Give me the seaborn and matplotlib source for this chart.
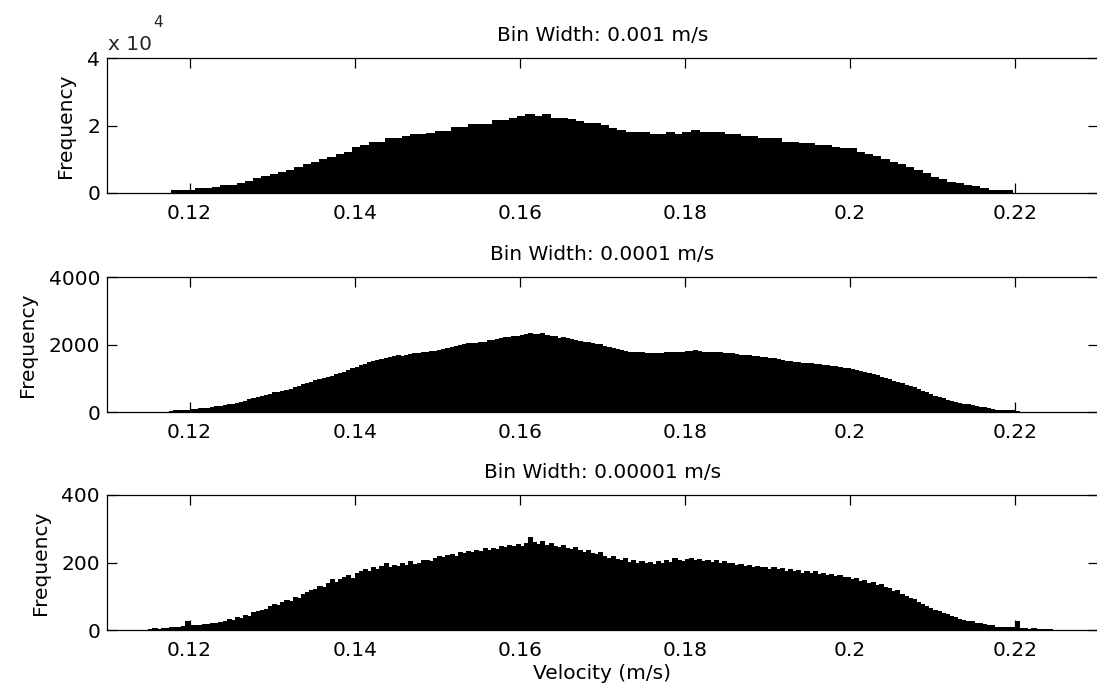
import numpy as np
import pandas as pd
import matplotlib
matplotlib.use("Agg")
import matplotlib.pyplot as plt
import seaborn as sns

# --- data ------------------------------------------------------------------
# panel 1: counts per 0.001 m/s bin, first bin starts at 0.1177 m/s
coarse_start = 0.1177
coarse_width = 0.001
coarse_counts = [
    690, 690, 690, 1290, 1290, 1690, 2380, 2380, 2880, 3570,
    4270, 4960, 5650, 6150, 6850, 7640, 8430, 9230, 10120, 10710,
    11410, 12100, 13590, 14190, 15180, 15180, 16270, 16270, 16760, 17360,
    17360, 17760, 18350, 18350, 19540,
    19540, 20530, 20530, 20530, 21720, 21720, 22320, 22910, 23310, 22910,
    23310, 22320, 22320, 21920, 21330, 20830, 20830, 20140, 19150, 18550,
    17960, 17960, 17960, 17560, 17560, 18050, 17560, 18050, 18550, 17960,
    17960, 17960, 17560, 17560,
    16960, 16960, 16370, 16370, 16370, 15180, 15180, 14680, 14680, 14190,
    14190, 13690, 13190, 13190, 12100, 11610, 10910, 9920, 9230, 8430,
    7740, 6750, 5750, 4760, 3970, 3270, 2780, 2380, 1880, 1390,
    690, 690, 690,
]

# panel 2: visible level of the 0.0001 m/s bins, read every 0.0005 m/s
mid_start = 0.1175
mid_step = 0.0005
mid_counts = [
    40, 55, 60, 65, 70, 85, 100, 115, 125, 140,
    155, 175, 200, 225, 240, 260, 285, 315, 345, 380,
    415, 450, 485, 520, 555, 590, 615, 640, 670, 705,
    745, 785, 825, 860, 900, 945, 990, 1030, 1060, 1090,
    1130, 1170, 1205, 1250, 1300, 1350, 1400, 1440, 1490, 1530,
    1560, 1590, 1620, 1640, 1660, 1690, 1680, 1710, 1730, 1760,
    1750, 1780, 1790, 1820, 1830, 1850, 1890, 1900, 1940, 1960,
    1980, 2010, 2040, 2040, 2060, 2080, 2090, 2130, 2150, 2180,
    2200, 2230, 2240, 2270, 2260, 2300, 2310, 2340, 2320, 2310,
    2340, 2300, 2270, 2250, 2210, 2220, 2190, 2170, 2150, 2110,
    2090, 2070, 2060, 2030, 2010, 1970, 1930, 1900, 1870, 1850,
    1820, 1800, 1790, 1800, 1780, 1770, 1760, 1750, 1760, 1770,
    1790, 1800, 1790, 1780, 1790, 1810, 1830, 1840, 1820, 1800,
    1790, 1800, 1790, 1780, 1770, 1760, 1750, 1730, 1710, 1690,
    1690, 1670, 1660, 1640, 1630, 1620, 1600, 1580, 1550, 1520,
    1510, 1490, 1490, 1470, 1460, 1450, 1440, 1420, 1410, 1390,
    1380, 1360, 1340, 1320, 1310, 1290, 1260, 1230, 1190, 1160,
    1130, 1100, 1060, 1020, 980, 940, 900, 860, 820, 780,
    740, 690, 640, 590, 540, 490, 450, 410, 370, 340,
    310, 285, 260, 240, 215, 190, 165, 145, 120, 95,
    75, 65, 60, 60, 60, 30,
]

# panel 3: visible level of the 0.00001 m/s bins, read every 0.0005 m/s
fine_start = 0.1150
fine_step = 0.0005
fine_counts = [
    4, 5, 3, 6, 5, 8, 9, 10, 12, 28,
    14, 16, 15, 18, 17, 22, 21, 25, 28, 32,
    31, 38, 36, 45, 42, 52, 55, 60, 63, 72,
    76, 74, 82, 90, 86, 98, 95, 108, 112, 118,
    122, 130, 126, 140, 152, 142, 150, 158, 162, 155,
    170, 175, 180, 176, 186, 182, 190, 198, 186, 194,
    190, 198, 192, 203, 197, 200, 206, 208, 204, 212,
    218, 215, 222, 226, 220, 230, 228, 235, 230, 238,
    234, 242, 236, 244, 240, 248, 245, 252, 248, 255,
    250, 258, 275, 262, 256, 264, 252, 258, 250, 246,
    252, 244, 240, 246, 236, 232, 238, 228, 224, 230,
    220, 214, 218, 210, 206, 212, 202, 206, 200, 204,
    198, 202, 196, 204, 200, 208, 202, 212, 206, 204,
    210, 214, 206, 210, 204, 208, 202, 206, 200, 204,
    198, 200, 194, 196, 190, 194, 188, 190, 186, 188,
    182, 186, 180, 184, 176, 180, 174, 178, 170, 174,
    168, 176, 166, 168, 162, 166, 160, 162, 156, 158,
    150, 154, 146, 148, 140, 142, 134, 136, 126, 124,
    116, 118, 106, 102, 94, 92, 82, 78, 70, 66,
    58, 56, 50, 46, 42, 38, 34, 30, 28, 26,
    22, 20, 18, 16, 14, 10, 9, 8, 8, 9,
    28, 6, 5, 4, 6, 3, 2, 2, 4,
]

titles = ["Bin Width: 0.001 m/s", "Bin Width: 0.0001 m/s", "Bin Width: 0.00001 m/s"]
y_tops = [40000, 4000, 400]
y_ticklabels = [["0", "2", "4"], ["0", "2000", "4000"], ["0", "200", "400"]]
x_ticks = [0.12, 0.14, 0.16, 0.18, 0.2, 0.22]
x_ticklabels = ["0.12", "0.14", "0.16", "0.18", "0.2", "0.22"]


def draw_hist(ax, start, width, counts):
    counts = np.asarray(counts, dtype=float)
    edges = start + width * np.arange(len(counts) + 1)
    df = pd.DataFrame({"velocity": edges[:-1] + width / 2, "count": counts})
    # no antialiasing, so neighbouring bars join without hairline seams
    sns.histplot(data=df, x="velocity", weights="count", bins=list(edges),
                 element="bars", fill=True, color="black", alpha=1.0,
                 edgecolor="black", linewidth=0.5, antialiased=False, ax=ax)


sns.set_theme(style="ticks")
plt.rcParams["font.family"] = ["DejaVu Sans"]
FS = 14.5

W, H = 1097, 698
fig = plt.figure(figsize=(W / 100, H / 100), dpi=100)
fig.patch.set_facecolor("white")

# axes boxes in pixels: (left, top, right, bottom)
boxes = [(107, 58.3, 1097.5, 192.7), (107, 277.3, 1097.5, 412.3), (107, 495, 1097.5, 630)]
ylabel_x = [-0.0323, -0.071, -0.0575]
series = [(coarse_start, coarse_width, coarse_counts),
          (mid_start, mid_step, mid_counts),
          (fine_start, fine_step, fine_counts)]

for i, (l, t, r, b) in enumerate(boxes):
    ax = fig.add_axes([l / W, 1 - b / H, (r - l) / W, (b - t) / H])
    start, width, counts = series[i]
    draw_hist(ax, start, width, counts)

    ax.set_xlim(0.11, 0.23)
    ax.set_ylim(0, y_tops[i])
    ax.set_xticks(x_ticks)
    ax.set_xticklabels(x_ticklabels)
    ax.set_yticks([0, y_tops[i] / 2, y_tops[i]])
    ax.set_yticklabels(y_ticklabels[i])
    ax.tick_params(axis="x", direction="in", top=True, bottom=True, length=7,
                   width=0.9, labelsize=FS, pad=8, colors="black")
    ax.tick_params(axis="y", direction="in", left=True, right=True, length=7,
                   width=0.9, labelsize=FS, pad=5, colors="black")
    for sp in ax.spines.values():
        sp.set_visible(True)
        sp.set_linewidth(0.9)
        sp.set_color("black")
    ax.set_facecolor("white")
    ax.grid(False)

    ax.set_title(titles[i], fontsize=FS, pad=12.5, color="black")
    ax.set_ylabel("Frequency", fontsize=FS, color="black")
    ax.yaxis.set_label_coords(ylabel_x[i], 0.5)
    if i == 2:
        ax.set_xlabel("Velocity (m/s)", fontsize=FS, color="black", labelpad=3)
    else:
        ax.set_xlabel("")

# exponent label of the first panel
fig.text(108 / W, 1 - 50 / H, "x 10", fontsize=FS, va="baseline", ha="left")
fig.text(153 / W, 1 - 27 / H, "4", fontsize=11, va="baseline", ha="left")

fig.savefig("out.png", dpi=100)
